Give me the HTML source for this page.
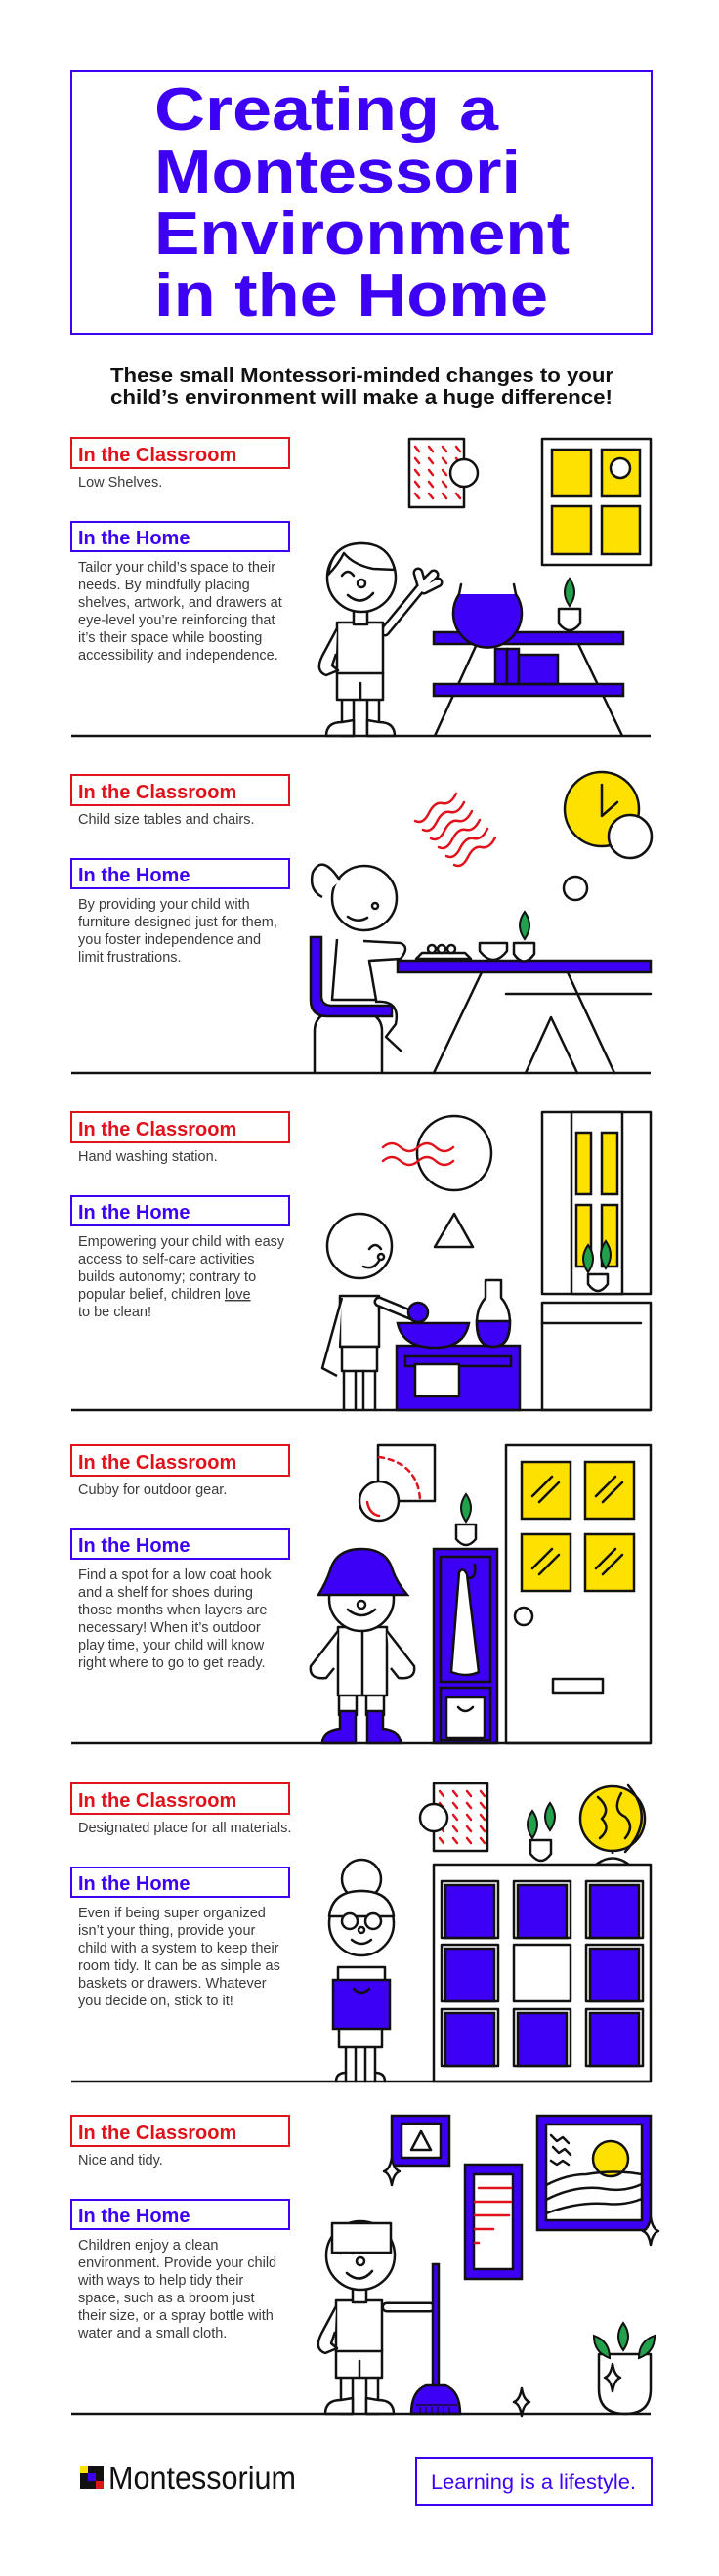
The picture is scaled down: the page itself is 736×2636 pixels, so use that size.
<!DOCTYPE html>
<html><head><meta charset="utf-8"><style>
html,body{margin:0;padding:0;background:#fff;width:736px;height:2636px;overflow:hidden}
svg{display:block}
.h{font-family:"Liberation Sans",sans-serif;font-weight:bold;font-size:20px}
.p{font-family:"Liberation Sans",sans-serif;font-size:14.5px;fill:#3a3a3a}
.s{fill:none;stroke:#111;stroke-width:2.5;stroke-linejoin:round;stroke-linecap:round}
.w{fill:#fff;stroke:#111;stroke-width:2.5;stroke-linejoin:round}
.pu{fill:#3d00f5;stroke:#111;stroke-width:2.5}
.y{fill:#ffe100;stroke:#111;stroke-width:2.5}
.r{fill:none;stroke:#e0121b;stroke-width:2.5;stroke-linecap:round}
.g{fill:#22a04b;stroke:#111;stroke-width:2}
.arm{fill:none;stroke:#111;stroke-width:11;stroke-linecap:round;stroke-linejoin:round}
.armw{fill:none;stroke:#fff;stroke-width:6;stroke-linecap:round;stroke-linejoin:round}
</style></head><body>
<svg width="736" height="2636" viewBox="0 0 736 2636" xmlns="http://www.w3.org/2000/svg">
<defs>
<g id="kid">
 <rect x="-20" y="124" width="12" height="38" class="w"/><rect x="6" y="124" width="12" height="38" class="w"/>
 <path d="M-36 162 Q-36 148 -20 148 L-8 146 L-8 162 Z" class="w"/>
 <path d="M34 162 Q34 148 18 148 L6 146 L6 162 Z" class="w"/>
 <rect x="-25" y="97" width="47" height="28" class="w"/><path d="M-1 125 L-1 108" class="s"/>
 <rect x="-25" y="46" width="47" height="52" class="w"/>
 <path d="M-25 52 L-40 80 Q-48 96 -36 100 L-24 95 L-30 90 L-26 78" class="w"/>
 <rect x="-8" y="32" width="14" height="16" class="w"/>
 <circle cx="0" cy="0" r="35" class="w"/>
 <path d="M-14 18 Q0 30 12 16" class="s"/><circle cx="0" cy="6" r="4" class="w"/>
 <path d="M-20 -2 Q-14 -10 -8 -2" class="s"/>
</g>
<g id="dots"><path d="M0 0 l4 5 M14 0 l4 5 M28 0 l4 5 M42 0 l4 5" class="r"/></g>
<g id="leaf"><path d="M0 0 Q-10 -14 0 -28 Q10 -14 0 0 Z" class="g"/></g>
<g id="spark"><path d="M0 -14 Q2 -2 8 0 Q2 2 0 14 Q-2 2 -8 0 Q-2 -2 0 -14 Z" class="w"/></g>
</defs>

<!-- Title -->
<rect x="73" y="73" width="594" height="269" fill="none" stroke="#3d00f5" stroke-width="2"/>
<g font-family="Liberation Sans,sans-serif" font-weight="bold" font-size="62" fill="#3d00f5">
<text x="158" y="133" textLength="352" lengthAdjust="spacingAndGlyphs">Creating a</text>
<text x="158" y="197" textLength="375" lengthAdjust="spacingAndGlyphs">Montessori</text>
<text x="158" y="260" textLength="425" lengthAdjust="spacingAndGlyphs">Environment</text>
<text x="158" y="323" textLength="403" lengthAdjust="spacingAndGlyphs">in the Home</text>
</g>
<g font-family="Liberation Sans,sans-serif" font-weight="bold" font-size="20" fill="#111">
<text x="113" y="391" textLength="515" lengthAdjust="spacingAndGlyphs">These small Montessori-minded changes to your</text>
<text x="113" y="413" textLength="514" lengthAdjust="spacingAndGlyphs">child’s environment will make a huge difference!</text>
</g>

<!-- SECTION 1 -->
<g transform="translate(0,448)">
<rect x="73" y="0" width="223" height="31" fill="none" stroke="#e0121b" stroke-width="2"/>
<text x="80" y="24" class="h" fill="#e0121b">In the Classroom</text>
<text x="80" y="50" class="p">Low Shelves.</text>
<rect x="73" y="86" width="223" height="30" fill="none" stroke="#3d00f5" stroke-width="2"/>
<text x="80" y="109" class="h" fill="#3d00f5">In the Home</text>
<text class="p"><tspan x="80" y="137">Tailor your child’s space to their</tspan><tspan x="80" y="155">needs.  By mindfully placing</tspan><tspan x="80" y="173">shelves, artwork, and drawers at</tspan><tspan x="80" y="191">eye-level you’re reinforcing that</tspan><tspan x="80" y="209">it’s their space while boosting</tspan><tspan x="80" y="227">accessibility and independence.</tspan></text>
<rect x="419" y="1" width="56" height="70" class="w"/>
<use href="#dots" x="425" y="9"/><use href="#dots" x="425" y="21"/><use href="#dots" x="425" y="33"/><use href="#dots" x="425" y="45"/><use href="#dots" x="425" y="57"/>
<circle cx="475" cy="36" r="14" class="w"/>
<rect x="555" y="1" width="111" height="129" class="w"/>
<rect x="565" y="12" width="40" height="48" class="y"/><rect x="616" y="12" width="39" height="48" class="y"/>
<rect x="565" y="70" width="40" height="49" class="y"/><rect x="616" y="70" width="39" height="49" class="y"/>
<circle cx="635" cy="31" r="10" class="w"/>
<path d="M488 211 L445 305 M592 211 L637 305" class="s"/>
<rect x="444" y="199" width="194" height="12" class="pu"/>
<rect x="444" y="252" width="194" height="12" class="pu"/>
<rect x="507" y="216" width="12" height="36" class="pu"/><rect x="519" y="216" width="12" height="36" class="pu"/><rect x="531" y="222" width="40" height="30" class="pu"/>
<path d="M470 160 A35 35 0 1 0 528 160" class="pu"/><path d="M472 150 L470 160 M526 150 L528 160" class="s"/>
<path d="M572 175 L594 175 L594 190 Q583 204 572 190 Z" class="w"/><use href="#leaf" x="583" y="172"/>
<path d="M394 198 L432 152 M432 152 L428 138 M432 152 L444 140 M434 155 L448 148" class="arm"/>
<path d="M394 198 L432 152 M432 152 L428 138 M432 152 L444 140 M434 155 L448 148" class="armw"/>
<use href="#kid" x="370" y="143"/>
<path d="M336 140 Q340 108 370 108 Q398 108 404 135 L382 134 Q362 130 352 118 Q346 130 336 140 Z" class="w"/>
<line x1="73" y1="305" x2="666" y2="305" stroke="#111" stroke-width="2.5"/>
</g>

<!-- SECTION 2 -->
<g transform="translate(0,793)">
<rect x="73" y="0" width="223" height="31" fill="none" stroke="#e0121b" stroke-width="2"/>
<text x="80" y="24" class="h" fill="#e0121b">In the Classroom</text>
<text x="80" y="50" class="p">Child size tables and chairs.</text>
<rect x="73" y="86" width="223" height="30" fill="none" stroke="#3d00f5" stroke-width="2"/>
<text x="80" y="109" class="h" fill="#3d00f5">In the Home</text>
<text class="p"><tspan x="80" y="137">By providing your child with</tspan><tspan x="80" y="155">furniture designed just for them,</tspan><tspan x="80" y="173">you foster independence and</tspan><tspan x="80" y="191">limit frustrations.</tspan></text>
<g class="r"><path d="M425 47 q8 4 14 -8 t14 -10 t14 -10"/><path d="M433 56 q8 4 14 -8 t14 -10 t14 -10"/><path d="M441 65 q8 4 14 -8 t14 -10 t14 -10"/><path d="M449 74 q8 4 14 -8 t14 -10 t14 -10"/><path d="M457 83 q8 4 14 -8 t14 -10 t14 -10"/><path d="M465 92 q8 4 14 -8 t14 -10 t14 -10"/></g>
<circle cx="616" cy="35" r="38" class="y"/><path d="M616 10 L616 42 L632 28" class="s"/>
<circle cx="645" cy="63" r="22" class="w"/>
<circle cx="589" cy="116" r="12" class="w"/>
<path d="M493 202 L444 305 M581 202 L629 305 M518 224 L666 224 M538 305 L564 248 L591 305" class="s"/>
<rect x="407" y="190" width="259" height="12" class="pu"/>
<path d="M426 188 L482 188 L476 182 L432 182 Z" class="w"/><circle cx="442" cy="178" r="4" class="w"/><circle cx="452" cy="178" r="4" class="w"/><circle cx="462" cy="178" r="4" class="w"/>
<path d="M491 172 L519 172 L519 180 Q505 198 491 180 Z" class="w"/>
<path d="M526 172 L547 172 L547 183 Q536 198 526 183 Z" class="w"/><use href="#leaf" x="537" y="168"/>
<path d="M322 305 L322 262 Q322 240 356 240 Q391 240 391 262 L391 305" class="w"/>
<path d="M318 166 L329 166 L329 226 Q329 236 340 236 L401 236 L401 247 L335 247 Q318 247 318 230 Z" class="pu"/>
<path d="M345 168 L340 230 L385 230 L378 190 L410 188 Q420 176 410 172 L372 170" class="w"/>
<path d="M385 232 Q410 230 405 255 L395 268 L410 282" class="s"/>
<circle cx="373" cy="126" r="33" class="w"/>
<path d="M348 108 Q330 80 320 100 Q316 118 330 125" class="w"/>
<path d="M356 145 Q366 152 376 146" class="s"/><circle cx="384" cy="134" r="3" class="w"/>
<line x1="73" y1="305" x2="666" y2="305" stroke="#111" stroke-width="2.5"/>
</g>

<!-- SECTION 3 -->
<g transform="translate(0,1138)">
<rect x="73" y="0" width="223" height="31" fill="none" stroke="#e0121b" stroke-width="2"/>
<text x="80" y="24" class="h" fill="#e0121b">In the Classroom</text>
<text x="80" y="50" class="p">Hand washing station.</text>
<rect x="73" y="86" width="223" height="30" fill="none" stroke="#3d00f5" stroke-width="2"/>
<text x="80" y="109" class="h" fill="#3d00f5">In the Home</text>
<text class="p"><tspan x="80" y="137">Empowering your child with easy</tspan><tspan x="80" y="155">access to self-care activities</tspan><tspan x="80" y="173">builds autonomy; contrary to</tspan><tspan x="80" y="191">popular belief, children <tspan text-decoration="underline">love</tspan></tspan><tspan x="80" y="209">to be clean!</tspan></text>
<circle cx="465" cy="42" r="38" class="w"/>
<g class="r"><path d="M392 36 q9 -8 18 0 t18 0 t18 0 t18 0"/><path d="M392 50 q9 -8 18 0 t18 0 t18 0 t18 0"/></g>
<path d="M445 138 L465 104 L484 138 Z" class="w"/>
<rect x="555" y="0" width="111" height="186" class="w"/>
<rect x="585" y="0" width="52" height="186" class="w"/>
<rect x="590" y="21" width="15" height="63" class="y"/><rect x="616" y="21" width="16" height="63" class="y"/>
<rect x="590" y="95" width="15" height="63" class="y"/><rect x="616" y="95" width="16" height="63" class="y"/>
<path d="M602 166 L622 166 L622 176 Q612 190 602 176 Z" class="w"/><use href="#leaf" x="602" y="164"/><use href="#leaf" x="620" y="160"/>
<rect x="555" y="195" width="111" height="110" class="w"/><line x1="555" y1="216" x2="656" y2="216" class="s"/>
<rect x="406" y="239" width="126" height="66" class="pu"/>
<rect x="415" y="250" width="108" height="10" class="pu"/>
<rect x="425" y="258" width="45" height="33" class="w"/>
<path d="M407 216 L480 216 Q475 242 443 241 Q412 240 407 216 Z" class="pu"/>
<path d="M488 216 Q488 200 497 190 L497 172 L513 172 L513 190 Q522 200 522 216 Q522 240 505 240 Q488 240 488 216 Z" class="w"/>
<path d="M488 214 L522 214 Q522 240 505 240 Q488 240 488 214 Z" class="pu"/>
<rect x="348" y="188" width="40" height="52" class="w"/><rect x="350" y="240" width="36" height="25" class="w"/>
<path d="M352 265 L352 305 M364 265 L364 305 M372 265 L372 305 M384 265 L384 305" class="s"/>
<path d="M350 190 L330 262 L345 270" class="w"/>
<path d="M388 194 L422 208" class="arm"/><path d="M388 194 L422 208" class="armw"/>
<circle cx="428" cy="205" r="10" class="pu"/>
<circle cx="368" cy="137" r="33" class="w"/>
<path d="M372 158 Q382 162 388 152" class="s"/><circle cx="390" cy="148" r="3" class="w"/><path d="M378 140 Q384 132 390 140" class="s"/>
<line x1="73" y1="305" x2="666" y2="305" stroke="#111" stroke-width="2.5"/>
</g>

<!-- SECTION 4 -->
<g transform="translate(0,1479)">
<rect x="73" y="0" width="223" height="31" fill="none" stroke="#e0121b" stroke-width="2"/>
<text x="80" y="24" class="h" fill="#e0121b">In the Classroom</text>
<text x="80" y="50" class="p">Cubby for outdoor gear.</text>
<rect x="73" y="86" width="223" height="30" fill="none" stroke="#3d00f5" stroke-width="2"/>
<text x="80" y="109" class="h" fill="#3d00f5">In the Home</text>
<text class="p"><tspan x="80" y="137">Find a spot for a low coat hook</tspan><tspan x="80" y="155">and a shelf for shoes during</tspan><tspan x="80" y="173">those months when layers are</tspan><tspan x="80" y="191">necessary! When it’s outdoor</tspan><tspan x="80" y="209">play time, your child will know</tspan><tspan x="80" y="227">right where to go to get ready.</tspan></text>
<rect x="387" y="0" width="58" height="57" class="w"/>
<path d="M388 12 Q428 18 430 56" class="r" stroke-dasharray="5 5"/>
<circle cx="388" cy="57" r="20" class="w"/><path d="M376 58 Q378 70 388 72" class="r"/>
<rect x="518" y="0" width="148" height="305" class="w"/>
<rect x="534" y="17" width="50" height="58" class="y"/><rect x="599" y="17" width="50" height="58" class="y"/>
<rect x="534" y="91" width="50" height="58" class="y"/><rect x="599" y="91" width="50" height="58" class="y"/>
<path d="M545 52 L565 32 M552 58 L572 38 M610 52 L630 32 M617 58 L637 38 M545 126 L565 106 M552 132 L572 112 M610 126 L630 106 M617 132 L637 112" class="s"/>
<circle cx="536" cy="175" r="9" class="w"/><rect x="566" y="239" width="51" height="14" class="w"/>
<rect x="444" y="106" width="65" height="199" class="pu"/>
<rect x="451" y="114" width="51" height="128" class="pu"/><rect x="451" y="248" width="51" height="54" class="pu"/>
<rect x="457" y="258" width="39" height="41" class="w"/><path d="M469 268 Q476 276 484 268" class="s"/>
<path d="M470 130 Q466 180 462 232 Q478 238 490 232 L478 132 Q474 124 470 130 Z" class="w"/><path d="M480 136 Q488 136 486 122" class="s"/>
<path d="M467 81 L487 81 L487 96 Q477 108 467 96 Z" class="w"/><use href="#leaf" x="477" y="78"/>
<rect x="347" y="252" width="18" height="24" class="w"/><rect x="375" y="252" width="18" height="24" class="w"/>
<path d="M348 272 L364 272 L364 305 L330 305 Q330 292 348 290 Z" class="pu"/><path d="M376 272 L392 272 L392 290 Q410 292 410 305 L376 305 Z" class="pu"/>
<path d="M346 186 L396 186 L396 256 L346 256 Z" class="w"/><line x1="371" y1="190" x2="371" y2="256" class="s"/>
<path d="M346 190 L318 226 Q316 240 334 238 L342 228" class="w"/><path d="M396 190 L424 226 Q426 240 408 238 L400 228" class="w"/>
<circle cx="370" cy="157" r="33" class="w"/>
<path d="M326 153 Q334 140 338 128 Q344 106 370 106 Q396 106 402 128 Q406 140 417 153 Z" class="pu"/>
<path d="M356 168 Q370 180 384 168" class="s"/><circle cx="370" cy="163" r="4" class="w"/>
<line x1="73" y1="305" x2="666" y2="305" stroke="#111" stroke-width="2.5"/>
</g>

<!-- SECTION 5 -->
<g transform="translate(0,1825)">
<rect x="73" y="0" width="223" height="31" fill="none" stroke="#e0121b" stroke-width="2"/>
<text x="80" y="24" class="h" fill="#e0121b">In the Classroom</text>
<text x="80" y="50" class="p">Designated place for all materials.</text>
<rect x="73" y="86" width="223" height="30" fill="none" stroke="#3d00f5" stroke-width="2"/>
<text x="80" y="109" class="h" fill="#3d00f5">In the Home</text>
<text class="p"><tspan x="80" y="137">Even if being super organized</tspan><tspan x="80" y="155">isn’t your thing, provide your</tspan><tspan x="80" y="173">child with a system to keep their</tspan><tspan x="80" y="191">room tidy. It can be as simple as</tspan><tspan x="80" y="209">baskets or drawers. Whatever</tspan><tspan x="80" y="227">you decide on, stick to it!</tspan></text>
<rect x="444" y="0" width="55" height="69" class="w"/>
<use href="#dots" x="450" y="8"/><use href="#dots" x="450" y="20"/><use href="#dots" x="450" y="32"/><use href="#dots" x="450" y="44"/><use href="#dots" x="450" y="56"/>
<circle cx="444" cy="35" r="14" class="w"/>
<path d="M543 58 L564 58 L564 72 Q554 86 543 72 Z" class="w"/><use href="#leaf" x="545" y="56"/><use href="#leaf" x="563" y="48"/>
<path d="M610 83 Q627 70 644 83 Z M627 72 L627 66" class="w"/>
<circle cx="627" cy="36" r="33" class="y"/><path d="M612 14 Q626 26 616 36 Q626 46 614 56 M636 10 Q626 28 640 34 Q650 44 640 56" class="s"/>
<path d="M643 2 Q672 36 640 70" class="s"/>
<rect x="444" y="83" width="222" height="222" class="w"/>
<g>
<rect x="452" y="100" width="58" height="58" class="w"/><rect x="456" y="104" width="50" height="54" class="pu"/>
<rect x="526" y="100" width="58" height="58" class="w"/><rect x="530" y="104" width="50" height="54" class="pu"/>
<rect x="600" y="100" width="58" height="58" class="w"/><rect x="604" y="104" width="50" height="54" class="pu"/>
<rect x="452" y="165" width="58" height="58" class="w"/><rect x="456" y="169" width="50" height="54" class="pu"/>
<rect x="526" y="165" width="58" height="58" class="w"/>
<rect x="600" y="165" width="58" height="58" class="w"/><rect x="604" y="169" width="50" height="54" class="pu"/>
<rect x="452" y="231" width="58" height="58" class="w"/><rect x="456" y="235" width="50" height="54" class="pu"/>
<rect x="526" y="231" width="58" height="58" class="w"/><rect x="530" y="235" width="50" height="54" class="pu"/>
<rect x="600" y="231" width="58" height="58" class="w"/><rect x="604" y="235" width="50" height="54" class="pu"/>
</g>
<circle cx="370" cy="98" r="20" class="w"/>
<rect x="346" y="188" width="48" height="60" class="w"/><rect x="347" y="248" width="44" height="22" class="w"/>
<path d="M354 270 L354 305 M364 270 L364 305 M374 270 L374 305 M384 270 L384 305" class="s"/>
<path d="M344 305 Q344 296 354 296 M394 305 Q394 296 384 296" class="s"/>
<rect x="341" y="201" width="58" height="50" class="pu"/><path d="M362 210 Q370 218 378 210" class="s"/>
<circle cx="370" cy="143" r="33" class="w"/>
<path d="M337 136 Q340 110 370 110 Q400 110 403 136 Z" class="w"/>
<circle cx="358" cy="141" r="8" class="w"/><circle cx="382" cy="141" r="8" class="w"/><circle cx="370" cy="150" r="3" class="w"/>
<path d="M360 160 Q370 168 380 160" class="s"/>
<line x1="73" y1="305" x2="666" y2="305" stroke="#111" stroke-width="2.5"/>
</g>

<!-- SECTION 6 -->
<g transform="translate(0,2165)">
<rect x="73" y="0" width="223" height="31" fill="none" stroke="#e0121b" stroke-width="2"/>
<text x="80" y="24" class="h" fill="#e0121b">In the Classroom</text>
<text x="80" y="50" class="p">Nice and tidy.</text>
<rect x="73" y="86" width="223" height="30" fill="none" stroke="#3d00f5" stroke-width="2"/>
<text x="80" y="109" class="h" fill="#3d00f5">In the Home</text>
<text class="p"><tspan x="80" y="137">Children enjoy a clean</tspan><tspan x="80" y="155">environment. Provide your child</tspan><tspan x="80" y="173">with ways to help tidy their</tspan><tspan x="80" y="191">space, such as a broom just</tspan><tspan x="80" y="209">their size, or a spray bottle with</tspan><tspan x="80" y="227">water and a small cloth.</tspan></text>
<rect x="401" y="0" width="59" height="51" class="pu"/><rect x="411" y="8" width="40" height="35" class="w"/><path d="M421 35 L431 16 L441 35 Z" class="s"/>
<use href="#spark" x="401" y="57"/>
<rect x="476" y="50" width="58" height="117" class="pu"/><rect x="485" y="60" width="40" height="97" class="w"/>
<path d="M490 74 L523 74 M486 88 L523 88 M486 102 L521 102 M486 116 L505 116 M486 130 L490 130" class="r"/>
<rect x="550" y="0" width="116" height="117" class="pu"/><rect x="559" y="9" width="98" height="98" class="w"/>
<circle cx="625" cy="44" r="18" class="y"/>
<path d="M559 71 Q580 60 600 60 Q630 55 657 60 M559 86 Q590 70 620 75 Q640 78 657 70 M559 100 Q590 88 620 90 Q640 92 657 85" class="s"/>
<path d="M564 20 l6 6 l6 -4 l6 6 M566 32 l6 6 l6 -4 l6 6 M564 46 l6 4 l6 -4 l6 4" class="s"/>
<use href="#spark" x="666" y="118"/>
<use href="#spark" x="534" y="293"/>
<path d="M613 244 L666 244 L666 280 Q666 305 640 305 Q613 305 613 280 Z" class="w"/><use href="#spark" x="627" y="268"/>
<use href="#leaf" x="638" y="240"/><use href="#leaf" x="624" y="248" transform="rotate(-35 624 248)"/><use href="#leaf" x="654" y="248" transform="rotate(35 654 248)"/>
<use href="#kid" x="369" y="143"/>
<path d="M396 196 L440 196" class="arm"/><path d="M396 196 L440 196" class="armw"/>
<rect x="443" y="152" width="6" height="125" class="pu"/>
<path d="M436 276 L456 276 Q471 282 471 305 L421 305 Q421 282 436 276 Z" class="pu"/>
<path d="M426 296 L468 296 M430 298 L430 305 M436 298 L436 305 M442 298 L442 305 M448 298 L448 305 M454 298 L454 305 M460 298 L460 305" stroke="#111" stroke-width="1.2"/>
<rect x="340" y="110" width="60" height="30" class="w"/>
<line x1="73" y1="305" x2="666" y2="305" stroke="#111" stroke-width="2.5"/>
</g>

<!-- Footer -->
<g>
<rect x="82" y="2523" width="8" height="8" fill="#ffe100"/><rect x="90" y="2523" width="8" height="8" fill="#111"/><rect x="98" y="2523" width="8" height="8" fill="#111"/>
<rect x="82" y="2531" width="8" height="8" fill="#111"/><rect x="90" y="2531" width="8" height="8" fill="#3d00f5"/><rect x="98" y="2531" width="8" height="8" fill="#111"/>
<rect x="82" y="2539" width="8" height="8" fill="#111"/><rect x="90" y="2539" width="8" height="8" fill="#111"/><rect x="98" y="2539" width="8" height="8" fill="#e0121b"/>
<text x="111" y="2547" font-family="Liberation Sans,sans-serif" font-size="33" fill="#111" textLength="192" lengthAdjust="spacingAndGlyphs">Montessorium</text>
<rect x="426" y="2515" width="241" height="48" fill="none" stroke="#3d00f5" stroke-width="2"/>
<text x="441" y="2547" font-family="Liberation Sans,sans-serif" font-size="21" fill="#3d00f5" textLength="210" lengthAdjust="spacingAndGlyphs">Learning is a lifestyle.</text>
</g>
</svg>
</body></html>
